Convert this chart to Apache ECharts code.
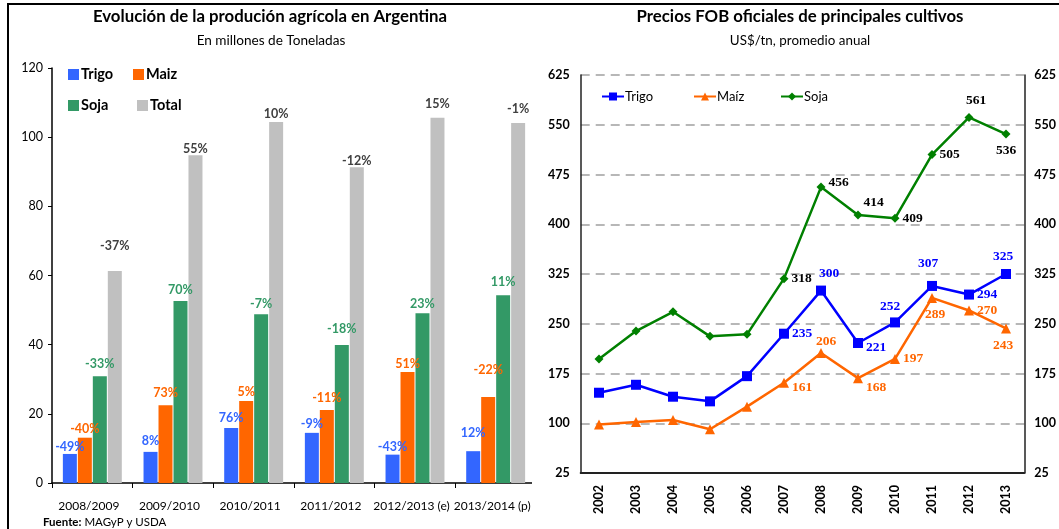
<!DOCTYPE html>
<html><head><meta charset="utf-8">
<script src="https://cdn.jsdelivr.net/npm/echarts@6/dist/echarts.min.js"></script>
<style>
html,body{margin:0;padding:0;background:#fff;width:1059px;height:529px;overflow:hidden;}
#frame{position:absolute;left:7px;top:3px;width:1070px;height:540px;border-top:2px solid #000;border-left:2px solid #000;box-sizing:border-box;pointer-events:none;z-index:5;}
#leftWrap{position:absolute;left:0;top:0;width:532px;height:529px;overflow:hidden;}
#left{position:absolute;left:0;top:0;width:560px;height:529px;}
#right{position:absolute;left:532px;top:0;width:527px;height:529px;background:#fff;}
</style></head>
<body>
<div id="leftWrap"><div id="left"></div></div>
<div id="right"></div>
<div id="frame"></div>
<script>
// ---- Left chart data ----
const categories = ['2008/2009','2009/2010','2010/2011','2011/2012','2012/2013 (e)','2013/2014 (p)'];
const trigo = [8.4, 9.0, 15.9, 14.5, 8.2, 9.2];
const maiz  = [13.1, 22.5, 23.7, 21.1, 32.1, 24.9];
const soja  = [30.9, 52.6, 48.8, 39.9, 49.1, 54.3];
const total = [61.3, 94.8, 104.4, 91.3, 105.6, 104.1];
const trigoPct = ['-49%','8%','76%','-9%','-43%','12%'];
const maizPct  = ['-40%','73%','5%','-11%','51%','-22%'];
const sojaPct  = ['-33%','70%','-7%','-18%','23%','11%'];
const totalPct = ['-37%','55%','10%','-12%','15%','-1%'];

// ---- Right chart data ----
const years = ['2002','2003','2004','2005','2006','2007','2008','2009','2010','2011','2012','2013'];
const trigoFob = [146, 158, 140, 133, 171, 235, 300, 221, 252, 307, 294, 325];
const maizFob  = [98, 102, 105, 91, 125, 161, 206, 168, 197, 289, 270, 243];
const sojaFob  = [197, 239, 268, 231, 234, 318, 456, 414, 409, 505, 561, 536];

// ---- label placement (style only) ----
const trigoLift = [0, 4, 4, 2, 1, 12];
const maizLift  = [2, 6, 3, 6, 2, 20];
const sojaLift  = [6, 5, 4, 10, 3, 7];
const totalLift = [19, 0, 1, 0, 7, 8];

const trigoLbl = [null,null,null,null,null,['right',[-2,0]],['top',[8,0]],['right',[-2,5]],['top',[-5,1]],['top',[-4,-5]],['right',[-2,0]],['top',[-3,0]]];
const maizLbl  = [null,null,null,null,null,['right',[-2,5]],['top',[5,6]],['right',[-2,9]],['right',[-2,0]],['bottom',[3,0]],['right',[-2,0]],['bottom',[-3,0]]];
const sojaLbl  = [null,null,null,null,null,['right',[-2,0]],['right',[-2,-5]],['right',[-4,-12]],['right',[-2,0]],['right',[-2,0]],['top',[7,0]],['bottom',[0,0]]];

const FONT = 'Lato, "Open Sans", sans-serif';
const SERIF = '"Liberation Serif", "DejaVu Serif", serif';

const C_TRIGO = '#3366FF', C_MAIZ = '#FF6600', C_SOJA = '#339966', C_TOTAL = '#C0C0C0';

function barSeries(name, vals, pct, lift, color, lblColor) {
  return {
    name, type: 'bar', barWidth: 14, barGap: '7%',
    itemStyle: { color },
    data: vals.map((v, i) => ({ value: v, label: { distance: lift[i] } })),
    label: {
      show: true, position: 'top', color: lblColor,
      fontFamily: FONT, fontWeight: 'bold', fontSize: 12.5,
      formatter: p => pct[p.dataIndex]
    }
  };
}

const leftChart = echarts.init(document.getElementById('left'), null, { renderer: 'canvas' });
const legendBase = { icon: 'rect', itemWidth: 11, itemHeight: 11, itemGap: 5, padding: 0, selectedMode: false,
  textStyle: { fontFamily: FONT, fontWeight: 'bold', fontSize: 14.5, color: '#000', padding: [0,0,0,-3] } };
leftChart.setOption({
  animation: false,
  graphic: [
    { type: 'text', x: 270, y: 17, style: { text: 'Evolución de la produción agrícola en Argentina', font: 'bold 16.8px ' + FONT, fill: '#000', align: 'center', verticalAlign: 'middle' } },
    { type: 'text', x: 271, y: 41, style: { text: 'En millones de Toneladas', font: '13.6px ' + FONT, fill: '#000', align: 'center', verticalAlign: 'middle' } },
    { type: 'text', x: 43, y: 522, style: { text: '{b|Fuente:} MAGyP y USDA', font: '11.5px ' + FONT, fill: '#000', verticalAlign: 'middle',
        rich: { b: { fontWeight: 'bold', fontSize: 11.5, fontFamily: FONT } } } }
  ],
  legend: [
    Object.assign({}, legendBase, { left: 68, top: 67, data: ['Trigo'] }),
    Object.assign({}, legendBase, { left: 133, top: 67, data: ['Maiz'] }),
    Object.assign({}, legendBase, { left: 68, top: 98, data: ['Soja'] }),
    Object.assign({}, legendBase, { left: 137, top: 98, data: ['Total'] })
  ],
  grid: { left: 52, top: 68, width: 484, height: 415 },
  xAxis: {
    type: 'category', data: categories,
    axisLine: { lineStyle: { color: '#000', width: 1.5 } },
    axisTick: { show: true, length: 5, lineStyle: { color: '#000' } },
    axisLabel: { interval: 0, margin: 17, fontFamily: FONT, fontSize: 12, color: '#000', padding: [0, 7, 0, 0] }
  },
  yAxis: {
    type: 'value', min: 0, max: 120, interval: 20,
    axisLine: { show: true, lineStyle: { color: '#000', width: 1.5 } },
    axisTick: { show: true, length: 4, lineStyle: { color: '#000' } },
    splitLine: { show: false },
    axisLabel: { margin: 9, fontFamily: FONT, fontSize: 12.5, color: '#000' }
  },
  series: [
    barSeries('Trigo', trigo, trigoPct, trigoLift, C_TRIGO, C_TRIGO),
    barSeries('Maiz', maiz, maizPct, maizLift, C_MAIZ, C_MAIZ),
    barSeries('Soja', soja, sojaPct, sojaLift, C_SOJA, C_SOJA),
    barSeries('Total', total, totalPct, totalLift, C_TOTAL, '#404040')
  ]
});

// ---- Right chart ----
const L_TRIGO = '#0000FF', L_MAIZ = '#FF6600', L_SOJA = '#008000';
function lineSeries(name, vals, lbl, color, lblColor, symbol, size) {
  return {
    name, type: 'line', xAxisIndex: 0, yAxisIndex: 0,
    symbol, symbolSize: size, showAllSymbol: true,
    lineStyle: { color, width: 2.5 },
    itemStyle: { color },
    data: vals.map((v, i) => {
      const d = { value: v };
      if (lbl[i]) d.label = { show: true, position: lbl[i][0], offset: lbl[i][1] };
      return d;
    }),
    label: { show: false, color: lblColor, fontFamily: SERIF, fontWeight: 'bold', fontSize: 13.5, distance: 5 }
  };
}
const rLegendBase = { itemWidth: 22, itemHeight: 10, padding: 0, selectedMode: false,
  textStyle: { fontFamily: FONT, fontSize: 13, color: '#000', padding: [0,0,0,-4] } };
const rightChart = echarts.init(document.getElementById('right'), null, { renderer: 'canvas' });
rightChart.setOption({
  animation: false,
  graphic: [
    { type: 'text', x: 268, y: 17, style: { text: 'Precios FOB oficiales de principales cultivos', font: 'bold 16.8px ' + FONT, fill: '#000', align: 'center', verticalAlign: 'middle' } },
    { type: 'text', x: 268, y: 41, style: { text: 'US$/tn, promedio anual', font: '13.4px ' + FONT, fill: '#000', align: 'center', verticalAlign: 'middle' } }
  ],
  legend: [
    Object.assign({}, rLegendBase, { left: 69, top: 90, data: ['Trigo'] }),
    Object.assign({}, rLegendBase, { left: 161, top: 90, data: ['Maíz'] }),
    Object.assign({}, rLegendBase, { left: 248, top: 90, data: ['Soja'] })
  ],
  grid: [
    { left: 48.5, top: 75, width: 444, height: 398 },
    { left: 48.7, top: 75, width: 450, height: 398 }
  ],
  xAxis: [
    { type: 'category', gridIndex: 0, data: years,
      axisLine: { show: false }, axisTick: { show: false },
      axisLabel: { rotate: 90, margin: 12, fontFamily: FONT, fontWeight: 'bold', fontSize: 12.5, color: '#000' } },
    { type: 'category', gridIndex: 1, data: years,
      axisLine: { show: true, lineStyle: { color: '#222', width: 2 } }, axisTick: { show: false },
      axisLabel: { show: false } }
  ],
  yAxis: [
    { type: 'value', gridIndex: 0, min: 25, max: 625, interval: 75, show: false },
    { type: 'value', gridIndex: 1, min: 25, max: 625, interval: 75, position: 'left',
      axisLine: { show: true, lineStyle: { color: '#222', width: 1.5 } }, axisTick: { show: false },
      splitLine: { show: true, lineStyle: { color: '#A0A0A0', type: [9, 6], width: 1.5 } },
      axisLabel: { margin: 11, fontFamily: FONT, fontWeight: 'bold', fontSize: 12.5, color: '#000' } },
    { type: 'value', gridIndex: 1, min: 25, max: 625, interval: 75, position: 'right',
      axisLine: { show: true, lineStyle: { color: '#222', width: 1.5 } }, axisTick: { show: false },
      splitLine: { show: false },
      axisLabel: { margin: 10, fontFamily: FONT, fontWeight: 'bold', fontSize: 12.5, color: '#000' } }
  ],
  series: [
    lineSeries('Trigo', trigoFob, trigoLbl, L_TRIGO, L_TRIGO, 'rect', 10),
    lineSeries('Maíz', maizFob, maizLbl, L_MAIZ, L_MAIZ, 'triangle', 10),
    lineSeries('Soja', sojaFob, sojaLbl, L_SOJA, '#000', 'diamond', 9)
  ]
});
</script>
</body></html>
